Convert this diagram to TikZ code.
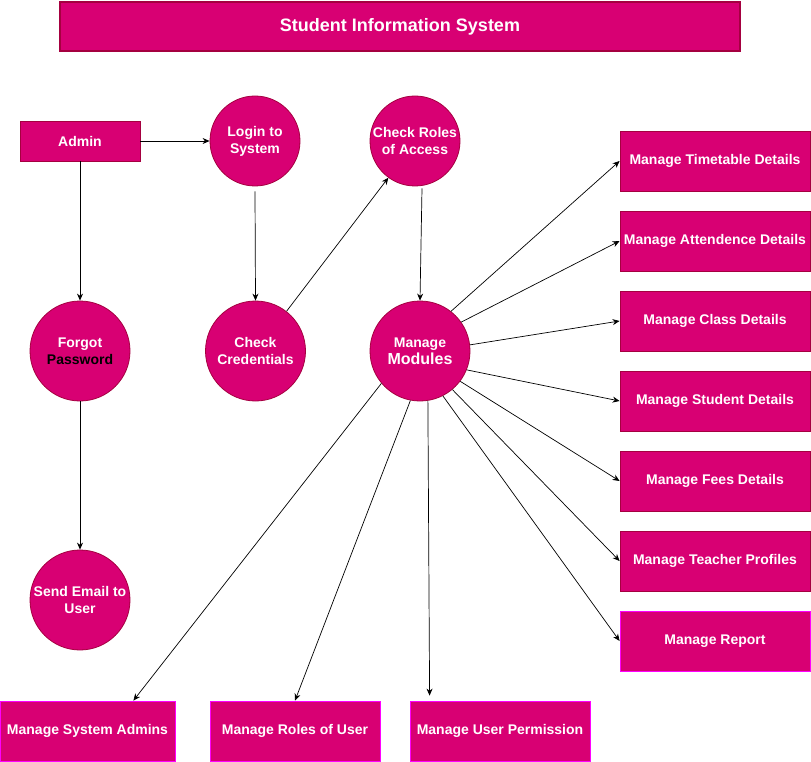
\documentclass[tikz,border=0pt]{standalone}
\usepackage{fontspec}
\setmainfont{Liberation Sans}
\usetikzlibrary{arrows.meta,calc}
\definecolor{mfill}{HTML}{D80073}
\definecolor{mdark}{HTML}{A50040}
\definecolor{mbright}{HTML}{FF00FF}
\tikzset{
  base/.style={fill=mfill, draw=mdark, line width=0.8pt, text=white,
    font=\bfseries\fontsize{14}{17}\selectfont, inner sep=0pt, align=center},
  boxn/.style={base, rectangle, minimum width=#1, minimum height=60pt},
  boxb/.style={boxn=#1, draw=mbright},
  circ/.style={base, circle, minimum size=#1},
  conn/.style={draw=black, line width=0.7pt, -{Stealth[length=7pt,width=6pt]}}
}
\begin{document}
\begin{tikzpicture}[x=1pt,y=-1pt]
\useasboundingbox (0,0) rectangle (811,762);
\node[base, rectangle, minimum width=680pt, minimum height=49pt, line width=2.5pt,
  font=\bfseries\fontsize{18}{20}\selectfont] (title) at (400,26.5) {Student Information System};
\node[base, rectangle, minimum width=120pt, minimum height=40pt] (admin) at (80,141) {Admin};
\node[circ=90pt] (login) at (255,141) {Login to\\System};
\node[circ=90pt] (roles) at (415,141) {Check Roles\\of Access};
\node[circ=100pt] (forgot) at (80,351) {Forgot\\\textcolor{black}{Password}};
\node[circ=100pt] (cred) at (255.5,351) {Check\\Credentials};
\node[circ=100pt] (mm) at (420,351) {Manage\\{\fontsize{16}{17}\selectfont Modules}};
\node[circ=100pt] (email) at (80,600) {Send Email to\\User};

\node[boxn=190pt] (tt) at (715,161) {Manage Timetable Details};
\node[boxn=190pt] (att) at (715,241) {Manage Attendence Details};
\node[boxn=190pt] (cls) at (715,321) {Manage Class Details};
\node[boxn=190pt] (stu) at (715,401) {Manage Student Details};
\node[boxn=190pt] (fee) at (715,481) {Manage Fees Details};
\node[boxn=190pt] (tea) at (715,561) {Manage Teacher Profiles};
\node[boxb=190pt] (rep) at (715,641) {Manage Report};

\node[boxb=175pt] (sa) at (87.5,731) {Manage System Admins};
\node[boxb=170pt] (ru) at (295,731) {Manage Roles of User};
\node[boxb=180pt] (up) at (500,731) {Manage User Permission};

\draw[conn] (admin.east) -- (login.west);
\draw[conn] (admin.south) -- (forgot.north);
\draw[conn] ([yshift=-5pt]login.south) -- (cred.north);
\draw[conn] (cred.52) -- (roles.-126);
\draw[conn] ([xshift=7pt,yshift=-2pt]roles.south) -- (mm.north);
\draw[conn] (forgot.south) -- (email.north);

\draw[conn] (mm.52) -- (tt.west);
\draw[conn] (mm.35) -- (att.west);
\draw[conn] (mm.7) -- (cls.west);
\draw[conn] (mm.-22) -- (stu.west);
\draw[conn] (mm.-37) -- (fee.west);
\draw[conn] (mm.-50) -- (tea.west);
\draw[conn] (mm.-63) -- (rep.west);

\draw[conn] (mm.-140) -- ([xshift=-42pt]sa.north east);
\draw[conn] (mm.-101) -- (ru.north);
\draw[conn] (mm.-81) -- ([xshift=20pt,yshift=5pt]up.north west);
\end{tikzpicture}
\end{document}
